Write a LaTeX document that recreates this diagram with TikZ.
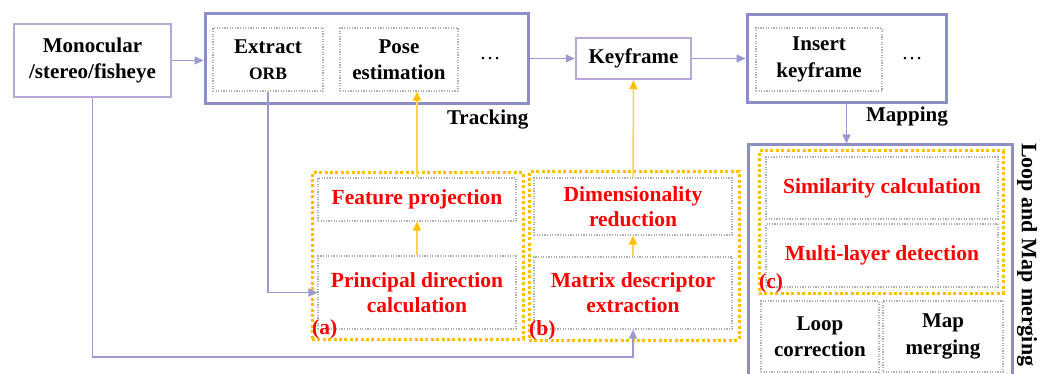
\documentclass[tikz,border=0pt]{standalone}
\usepackage{fontspec}
\setmainfont{Liberation Serif}
\usetikzlibrary{arrows.meta,positioning,calc}

\definecolor{srcpurple}{HTML}{B8A8D8}
\definecolor{grppurple}{HTML}{8E8EC6}
\definecolor{flowblue}{HTML}{9A9AD0}
\definecolor{modgold}{HTML}{FFC000}
\definecolor{flowgold}{HTML}{FFD34D}
\definecolor{subgray}{HTML}{AEAEAE}
\definecolor{hlred}{HTML}{FF0000}

\newcommand{\txtsize}{\fontsize{21}{26.5}\selectfont\bfseries}
\newcommand{\redsize}{\fontsize{21.5}{25}\selectfont\bfseries}
\newcommand{\orbsize}{\fontsize{17.5}{20}\selectfont\bfseries}

\begin{document}
\begin{tikzpicture}[x=1pt, y=-1pt,
    srcbox/.style={draw=srcpurple, line width=2.5pt, inner sep=0pt, align=center, font=\txtsize},
    grpbox/.style={draw=grppurple, line width=3pt, inner sep=0pt},
    subbox/.style={draw=subgray, line width=1.2pt, dash pattern=on 1.2pt off 1.4pt, inner sep=0pt, align=center, font=\txtsize},
    modbox/.style={draw=modgold, line width=3pt, dash pattern=on 3pt off 2.4pt, inner sep=0pt},
    redtxt/.style={text=hlred, font=\redsize},
    tag/.style={text=hlred, font=\redsize, inner sep=1.5pt, anchor=south west},
    flow/.style={draw=flowblue, line width=1.3pt, -{Triangle[length=9pt, width=8pt]}},
    goldflow/.style={draw=flowgold, line width=1.5pt, -{Triangle[length=9pt, width=8pt, fill=modgold, color=modgold]}}]

    \useasboundingbox (0,0) rectangle (1047,374);
    \clip (0,0) rectangle (1047,374);

    % Input
    \node[srcbox, minimum width=157pt, minimum height=73pt] (mono) at (92.5,60.5) {Monocular\\/stereo/fisheye};

    % Tracking thread
    \node[grpbox, minimum width=323pt, minimum height=90pt] (track) at (366.5,59) {};
    \node[subbox, minimum width=110pt, minimum height=63pt] (extract) at (268,59.5) {Extract\\{\orbsize ORB}};
    \node[subbox, minimum width=118pt, minimum height=63pt] (pose) at (399,59.5) {Pose\\estimation};
    \node[font=\fontsize{21}{25}\selectfont] (dotsA) at (490,59) {\dots};
    \node[font=\txtsize, anchor=north east, inner sep=1pt] (tracklbl) at ($(track.south east)+(0,3)$) {Tracking};

    % Keyframe
    \node[srcbox, minimum width=115pt, minimum height=41pt] (keyf) at (633.5,58.5) {Keyframe};

    % Local mapping thread
    \node[grpbox, minimum width=199pt, minimum height=88pt] (mapg) at (846.5,59) {};
    \node[subbox, minimum width=126pt, minimum height=63pt] (insert) at (819,59.5) {Insert\\keyframe};
    \node[font=\fontsize{21}{25}\selectfont] (dotsB) at (912,59) {\dots};
    \node[font=\txtsize, inner sep=0pt] (maplbl) at (907,117) {Mapping};

    % Loop and map merging thread (runs past the lower edge)
    \node[grpbox, minimum width=264pt, minimum height=255pt] (loopbox) at (880,272.5) {};
    \node[modbox, minimum width=244pt, minimum height=142pt] (grpc) at (881,222) {};
    \node[subbox, redtxt, minimum width=232pt, minimum height=62pt] (simil) at (882,188) {Similarity calculation};
    \node[subbox, redtxt, minimum width=232pt, minimum height=63pt] (multi) at (882,255.5) {Multi-layer detection};
    \node[tag] (tagc) at (grpc.south west) {(c)};
    \node[subbox, minimum width=118pt, minimum height=71pt] (loopc) at (820,336.5) {Loop\\correction};
    \node[subbox, minimum width=120pt, minimum height=71pt] (mapm) at (943,336.5) {Map\\merging};
    \node[font=\fontsize{22}{26}\selectfont\bfseries, rotate=-90, anchor=west, inner sep=0pt] (looplbl) at (1027,143) {Loop and Map merging};

    % Module (a)
    \node[modbox, minimum width=211pt, minimum height=166pt] (grpa) at (417.5,256) {};
    \node[subbox, redtxt, minimum width=198pt, minimum height=43pt] (featp) at (417,199.5) {Feature projection};
    \node[subbox, redtxt, minimum width=198pt, minimum height=73pt] (princ) at (417,292.5) {Principal direction\\calculation};
    \node[tag] (taga) at (grpa.south west) {(a)};

    % Module (b)
    \node[modbox, minimum width=210pt, minimum height=168pt] (grpb) at (634,256) {};
    \node[subbox, redtxt, minimum width=198pt, minimum height=57pt] (dimred) at (633,206.5) {Dimensionality\\reduction};
    \node[subbox, redtxt, minimum width=198pt, minimum height=72pt] (matrix) at (633,293) {Matrix descriptor\\extraction};
    \node[tag] (tagb) at (grpb.south west) {(b)};

    % Main flow
    \draw[flow] (mono.east) -- (mono.east -| track.west);
    \draw[flow] (track.east |- keyf) -- (keyf.west);
    \draw[flow] (keyf.east) -- (keyf.east -| mapg.west);
    \draw[flow] (mapg.south) -- (mapg.south |- loopbox.north);

    % Inputs of the modules
    \coordinate (low) at (0,357);
    \draw[flow] (extract.south) |- (princ.west);
    \draw[flow] (mono.south) |- (low -| matrix.south) -- (matrix.south);

    % Outputs of the modules
    \draw[goldflow] (princ.north) -- (featp.south);
    \draw[goldflow] (featp.north) -- (featp.north |- pose.south);
    \draw[goldflow] (matrix.north) -- (dimred.south);
    \draw[goldflow] (dimred.north) -- (keyf.south);
\end{tikzpicture}
\end{document}
